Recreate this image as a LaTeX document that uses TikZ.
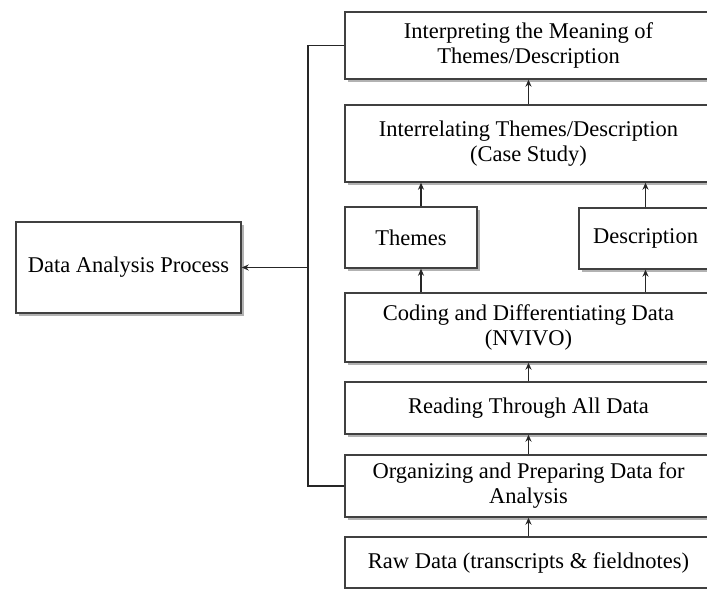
\documentclass[tikz,border=0pt]{standalone}
\usepackage{fontspec}
\setmainfont{Liberation Serif}
\usetikzlibrary{arrows.meta,shadows}
\begin{document}
\begin{tikzpicture}[x=1pt,y=-1pt,
  box/.style={draw=black!75, line width=1.4pt, fill=white, align=center, inner sep=0pt,
    font=\fontsize{22.5}{25}\selectfont,
    drop shadow={shadow xshift=2.5pt,shadow yshift=-2.5pt,fill=black!50,opacity=0.6}},
  conn/.style={draw=black!85, line width=1.6pt},
  arr/.style={conn, -{Stealth[length=7pt,width=6pt]}}]
\clip (0,0) rectangle (707,589);
\fill[white] (0,0) rectangle (707,589);
\coordinate (tx) at (421,0);
\coordinate (bx) at (308,0);
\node[box, minimum width=367pt, minimum height=67pt] (interp) at (528.5,45.5) {Interpreting the Meaning of\\Themes/Description};
\node[box, minimum width=367pt, minimum height=77pt] (interrel) at (528.5,143.5) {Interrelating Themes/Description\\(Case Study)};
\node[box, minimum width=132pt, minimum height=61pt] (themes) at (411,237.5) {Themes};
\node[box, minimum width=133pt, minimum height=61pt] (desc) at (645.5,238.5) {Description};
\node[box, minimum width=367pt, minimum height=69pt] (coding) at (528.5,327.5) {Coding and Differentiating Data\\(NVIVO)};
\node[box, minimum width=367pt, minimum height=52pt] (reading) at (528.5,408) {Reading Through All Data};
\node[box, minimum width=367pt, minimum height=62pt] (organ) at (528.5,486) {Organizing and Preparing Data for\\Analysis};
\node[box, minimum width=367pt, minimum height=51pt] (raw) at (528.5,562.5) {Raw Data (transcripts \& fieldnotes)};
\node[box, minimum width=225pt, minimum height=91pt] (dap) at (128.5,267.5) {Data Analysis Process};
% vertical arrows
\draw[arr] (raw) -- (organ);
\draw[arr] (organ) -- (reading);
\draw[arr] (reading) -- (coding);
\draw[arr] (coding.north -| tx) -- (themes.south -| tx);
\draw[arr] (coding.north -| desc.south) -- (desc.south);
\draw[arr] (themes.north -| tx) -- (interrel.south -| tx);
\draw[arr] (desc.north) -- (interrel.south -| desc.north);
\draw[arr] (interrel) -- (interp);
% bracket
\draw[conn] (interp.west) -- (interp.west -| bx) -- (organ.west -| bx) -- (organ.west);
\draw[arr] (dap.east -| bx) -- (dap.east);
\end{tikzpicture}
\end{document}
